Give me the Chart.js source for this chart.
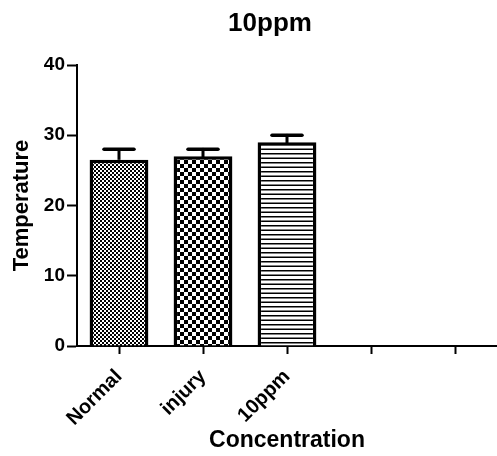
<!DOCTYPE html>
<html>
<head>
<meta charset="utf-8">
<script src="https://cdn.jsdelivr.net/npm/chart.js@4.4.0/dist/chart.umd.min.js"></script>
<style>
  body { margin: 0; background: #fff; }
  #wrap { width: 497px; height: 456px; }
</style>
</head>
<body>
<div id="wrap"><canvas id="chart" width="497" height="456"></canvas></div>
<script>
// datos
const categories = ['Normal', 'injury', '10ppm', '', ''];
const meanValues = [26.5, 27.0, 29.0, null, null];
const errorUpper = [28.0, 28.0, 30.0, null, null];
const yTicks = [0, 10, 20, 30, 40];
const chartTitle = '10ppm';
const xTitle = 'Concentration';
const yTitle = 'Temperature';

const FONT = '"Liberation Sans", Arial, sans-serif';

// patrones de relleno (tramas de las barras)
function makePattern(size, draw) {
    const c = document.createElement('canvas');
    c.width = size; c.height = size;
    const g = c.getContext('2d');
    g.fillStyle = '#fff';
    g.fillRect(0, 0, size, size);
    g.fillStyle = '#000';
    draw(g);
    return document.getElementById('chart').getContext('2d').createPattern(c, 'repeat');
}

const fineChecker = makePattern(4, g => {
    g.fillRect(0, 0, 2, 2);
    g.fillRect(2, 2, 2, 2);
});
const bigChecker = makePattern(8, g => {
    g.fillRect(0, 0, 4, 4);
    g.fillRect(4, 4, 4, 4);
});
const hLines = makePattern(9, g => {
    g.fillRect(0, 0, 9, 1.5);
    g.fillRect(0, 4.5, 9, 1.5);
});

// barras de error (solo hacia arriba)
const errorBars = {
    id: 'errorBars',
    afterDatasetsDraw(chart) {
        const ctx = chart.ctx;
        const meta = chart.getDatasetMeta(0);
        const yScale = chart.scales.y;
        ctx.save();
        ctx.strokeStyle = '#000';
        meta.data.forEach((bar, i) => {
            if (errorUpper[i] == null) return;
            const top = yScale.getPixelForValue(errorUpper[i]);
            ctx.lineWidth = 3;
            ctx.beginPath();
            ctx.moveTo(bar.x, bar.y);
            ctx.lineTo(bar.x, top);
            ctx.stroke();
            ctx.lineWidth = 3.5;
            ctx.lineCap = 'round';
            ctx.beginPath();
            ctx.moveTo(bar.x - 15, top);
            ctx.lineTo(bar.x + 15, top);
            ctx.stroke();
        });
        ctx.restore();
    }
};

// titulo principal
const mainTitle = {
    id: 'mainTitle',
    afterDraw(chart) {
        const ctx = chart.ctx;
        ctx.save();
        ctx.fillStyle = '#000';
        ctx.font = 'bold 26px ' + FONT;
        ctx.textAlign = 'center';
        ctx.textBaseline = 'alphabetic';
        ctx.fillText(chartTitle, (chart.chartArea.left + chart.chartArea.right) / 2 - 17, 31);
        ctx.restore();
    }
};

new Chart(document.getElementById('chart'), {
    type: 'bar',
    data: {
        labels: categories,
        datasets: [{
            data: meanValues,
            backgroundColor: [fineChecker, bigChecker, hLines],
            borderColor: '#000',
            borderWidth: 3.5,
            borderSkipped: 'bottom',
            barPercentage: 0.7,
            categoryPercentage: 1.0
        }]
    },
    options: {
        responsive: false,
        animation: false,
        layout: { padding: { top: 65, right: 0, bottom: 0, left: 0 } },
        plugins: {
            legend: { display: false },
            tooltip: { enabled: false },
            title: { display: false }
        },
        scales: {
            x: {
                offset: true,
                grid: { display: true, drawOnChartArea: false, drawTicks: true, tickLength: 8, tickWidth: 2, tickColor: '#000', offset: false },
                border: { display: true, color: '#000', width: 2 },
                ticks: {
                    color: '#000',
                    font: { family: FONT, size: 20, weight: 'bold' },
                    minRotation: 45,
                    maxRotation: 45,
                    padding: 11
                },
                title: {
                    display: true,
                    text: xTitle,
                    color: '#000',
                    font: { family: FONT, size: 23, weight: 'bold' },
                    padding: { top: 0, bottom: 2 }
                },
                afterFit(scale) { scale.height = 110; }
            },
            y: {
                min: 0,
                max: 40,
                afterBuildTicks(scale) { scale.ticks = yTicks.map(v => ({ value: v })); },
                grid: { display: true, drawOnChartArea: false, drawTicks: true, tickLength: 10, tickWidth: 2, tickColor: '#000' },
                border: { display: true, color: '#000', width: 2 },
                ticks: {
                    color: '#000',
                    font: { family: FONT, size: 19, weight: 'bold' },
                    padding: 2
                },
                title: {
                    display: true,
                    text: yTitle,
                    color: '#000',
                    font: { family: FONT, size: 22, weight: 'bold' },
                    padding: { top: 9, bottom: 0 }
                },
                afterFit(scale) { scale.width = 77; }
            }
        }
    },
    plugins: [errorBars, mainTitle]
});
</script>
</body>
</html>
